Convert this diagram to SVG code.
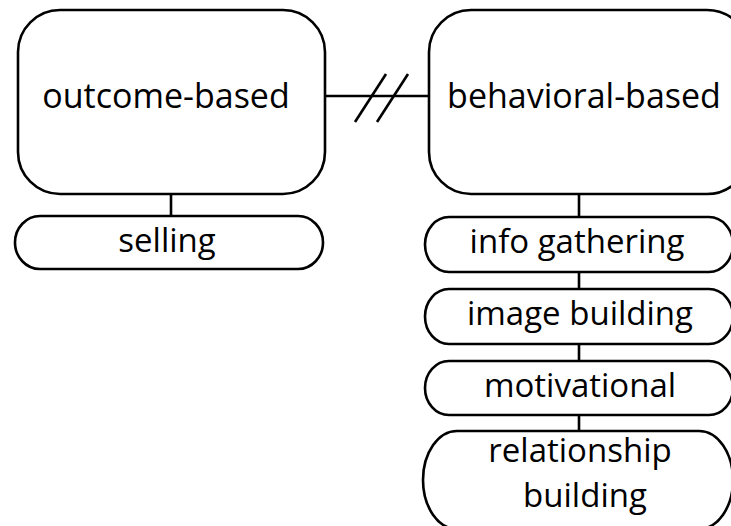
<svg xmlns="http://www.w3.org/2000/svg" width="731" height="526" viewBox="0 0 731 526">
<style>
.shape{fill:#ffffff;stroke:#000000;stroke-width:2.6}
.line{fill:none;stroke:#000000;stroke-width:2.6}
.big{font-family:"Open Sans","Noto Sans",sans-serif;font-size:34px;fill:#000000;text-anchor:middle}
.small{font-family:"Open Sans","Noto Sans",sans-serif;font-size:33px;fill:#000000;text-anchor:middle}
</style>
<rect width="731" height="526" fill="#ffffff"/>
<g id="connectors">
<line class="line" x1="325" y1="96" x2="429" y2="96"/>
<line class="line" x1="355" y1="122" x2="386" y2="74"/>
<line class="line" x1="377" y1="122" x2="408" y2="74"/>
<line class="line" x1="171" y1="194" x2="171" y2="216"/>
<line class="line" x1="579" y1="194" x2="579" y2="217"/>
<line class="line" x1="579" y1="272" x2="579" y2="289"/>
<line class="line" x1="579" y1="344" x2="579" y2="361"/>
<line class="line" x1="579" y1="415" x2="579" y2="431"/>
</g>
<g id="outcome-based">
<rect class="shape" x="18" y="10" width="307" height="184" rx="42" ry="42"/>
<text class="big" x="166" y="108">outcome-based</text>
</g>
<g id="behavioral-based">
<rect class="shape" x="429" y="10" width="320" height="184" rx="42" ry="42"/>
<text class="big" x="584" y="108">behavioral-based</text>
</g>
<g id="selling">
<rect class="shape" x="15" y="216" width="308" height="53" rx="25" ry="26.5"/>
<text class="small" x="167" y="252">selling</text>
</g>
<g id="info-gathering">
<rect class="shape" x="425" y="217" width="308" height="55" rx="24" ry="27.5"/>
<text class="small" x="577" y="253">info gathering</text>
</g>
<g id="image-building">
<rect class="shape" x="425" y="289" width="308" height="55" rx="24" ry="27.5"/>
<text class="small" x="580" y="325">image building</text>
</g>
<g id="motivational">
<rect class="shape" x="425" y="361" width="308" height="54" rx="24" ry="27"/>
<text class="small" x="580" y="397">motivational</text>
</g>
<g id="relationship-building">
<rect class="shape" x="423" y="431" width="310" height="98" rx="34" ry="49"/>
<text class="small" x="580" y="462">relationship</text>
<text class="small" x="585" y="507">building</text>
</g>
</svg>
